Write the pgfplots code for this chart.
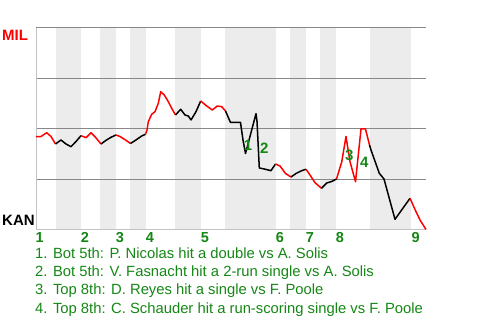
\documentclass[border=0pt]{standalone}
\usepackage{pgfplots}
\pgfplotsset{compat=1.18}
\usepackage{fontspec}
\setmainfont{Liberation Sans}
\definecolor{wpgreen}{RGB}{20,135,20}
\definecolor{band}{RGB}{236,236,236}
\definecolor{gridc}{RGB}{136,136,136}
\definecolor{axl}{RGB}{195,195,195}
\begin{document}
\begin{tikzpicture}[x=1pt,y=1pt]
\path[use as bounding box] (0,0) rectangle (480,320);
\begin{axis}[at={(36pt,90pt)}, anchor=south west, scale only axis,
  width=390pt, height=202pt, xmin=36, xmax=426, ymin=0, ymax=202,
  hide axis, clip=false]
% inning bands (bottom halves)
\fill[band] (axis cs:55.5,0) rectangle (axis cs:81,202);
\fill[band] (axis cs:100,0) rectangle (axis cs:116,202);
\fill[band] (axis cs:130,0) rectangle (axis cs:146,202);
\fill[band] (axis cs:175,0) rectangle (axis cs:201,202);
\fill[band] (axis cs:225,0) rectangle (axis cs:276,202);
\fill[band] (axis cs:290,0) rectangle (axis cs:306,202);
\fill[band] (axis cs:320,0) rectangle (axis cs:336,202);
\fill[band] (axis cs:370,0) rectangle (axis cs:411,202);
% grid
\draw[gridc, line width=1pt] (axis cs:36,50.5) -- (axis cs:426,50.5);
\draw[gridc, line width=1pt] (axis cs:36,101) -- (axis cs:426,101);
\draw[gridc, line width=1pt] (axis cs:36,151.5) -- (axis cs:426,151.5);
\draw[gridc, line width=1pt] (axis cs:36,202) -- (axis cs:426,202);
\draw[axl, line width=1pt] (axis cs:36,0) -- (axis cs:426,0);
\draw[axl, line width=1pt] (axis cs:36,0) -- (axis cs:36,202);
% win probability line
\pgfplotsset{every axis plot/.append style={line width=1.5pt, line join=round}}
\addplot[red] coordinates {(36,93.3) (40.7,93.3) (46.7,97.3) (51,93.5) (55.5,86)};
\addplot[black] coordinates {(55.5,86) (61,90) (66,86) (71,83.3) (76,88.5) (81,94.3)};
\addplot[red] coordinates {(81,94.3) (86,92.3) (91,97.3) (95.5,92.7) (101,86)};
\addplot[black] coordinates {(101,86) (106.5,90) (111,92.7) (116,95)};
\addplot[red] coordinates {(116,95) (120,93.5) (125.5,90) (130.5,86.5)};
\addplot[black] coordinates {(130.5,86.5) (135.5,89.7) (141.7,94) (145.5,95.7)};
\addplot[red] coordinates {(145.5,95.7) (147,100) (148.3,108.3) (151.7,115.7) (155,118.3) (158.3,126.7) (160.7,138.3) (164.3,135) (168.3,128.3) (171.7,121.7) (175.5,115)};
\addplot[black] coordinates {(175.5,115) (180.7,120.7) (185,115) (188.3,114) (191,110) (196,118.3) (200.7,129)};
\addplot[red] coordinates {(200.7,129) (206.7,124) (212.3,120) (217.3,124) (221.7,123.3) (225.5,119)};
\addplot[black] coordinates {(225.5,119) (230.5,107.5) (240.5,107.5) (243,90) (245.5,76.5) (256,116.3) (257,108.7) (259.3,62) (264.3,61) (271,59.3) (275.5,66)};
\addplot[red] coordinates {(275.5,66) (280,64) (285.5,56.5) (291,53)};
\addplot[black] coordinates {(291,53) (296,56.5) (301.7,59.3) (306,60.7)};
\addplot[red] coordinates {(306,60.7) (310,55) (315,47.3) (321.5,41.7)};
\addplot[black] coordinates {(321.5,41.7) (326.7,47) (331.7,48.5) (336.5,51)};
\addplot[red] coordinates {(336.5,51) (341.7,68) (346,93.5) (350,68.3) (355.5,48.3) (361,101) (365.5,101) (369.5,85)};
\addplot[black] coordinates {(369.5,85) (371,80) (379.3,56.7) (384,51) (395,10.7) (410,31.7)};
\addplot[red] coordinates {(410,31.7) (415,20.5) (420,10) (426,0.5)};
\end{axis}
% team labels
\node[anchor=base west, inner sep=0, text=red, font=\fontsize{15}{17}\selectfont\bfseries] at (2,279.3) {MIL};
\node[anchor=base west, inner sep=0, text=black, font=\fontsize{15}{17}\selectfont\bfseries] at (2,94) {KAN};
% event markers
\begin{scope}[every node/.style={inner sep=0, text=wpgreen, font=\fontsize{15}{17}\selectfont\bfseries}]
\node at (248,174.5) {1};
\node at (264.3,171.7) {2};
\node at (349.3,164.3) {3};
\node at (364.2,157.5) {4};
\end{scope}
% inning numbers
\begin{scope}[every node/.style={anchor=base, inner sep=0, text=wpgreen, font=\fontsize{14.5}{16}\selectfont\bfseries}]
\node at (39.7,77.7) {1};
\node at (85,77.7) {2};
\node at (120,77.7) {3};
\node at (150,77.7) {4};
\node at (205,77.7) {5};
\node at (280,77.7) {6};
\node at (310,77.7) {7};
\node at (340,77.7) {8};
\node at (415.7,77.7) {9};
\end{scope}
% event descriptions
\begin{scope}[every node/.style={anchor=base west, inner sep=0, text=wpgreen, font=\fontsize{14.8}{16}\selectfont}]
\node at (35,61.7) {1. Bot 5th: P. Nicolas hit a double vs A. Solis};
\node at (35,43.3) {2. Bot 5th: V. Fasnacht hit a 2-run single vs A. Solis};
\node at (35,25) {3. Top 8th: D. Reyes hit a single vs F. Poole};
\node at (35,6.7) {4. Top 8th: C. Schauder hit a run-scoring single vs F. Poole};
\end{scope}
\end{tikzpicture}
\end{document}
